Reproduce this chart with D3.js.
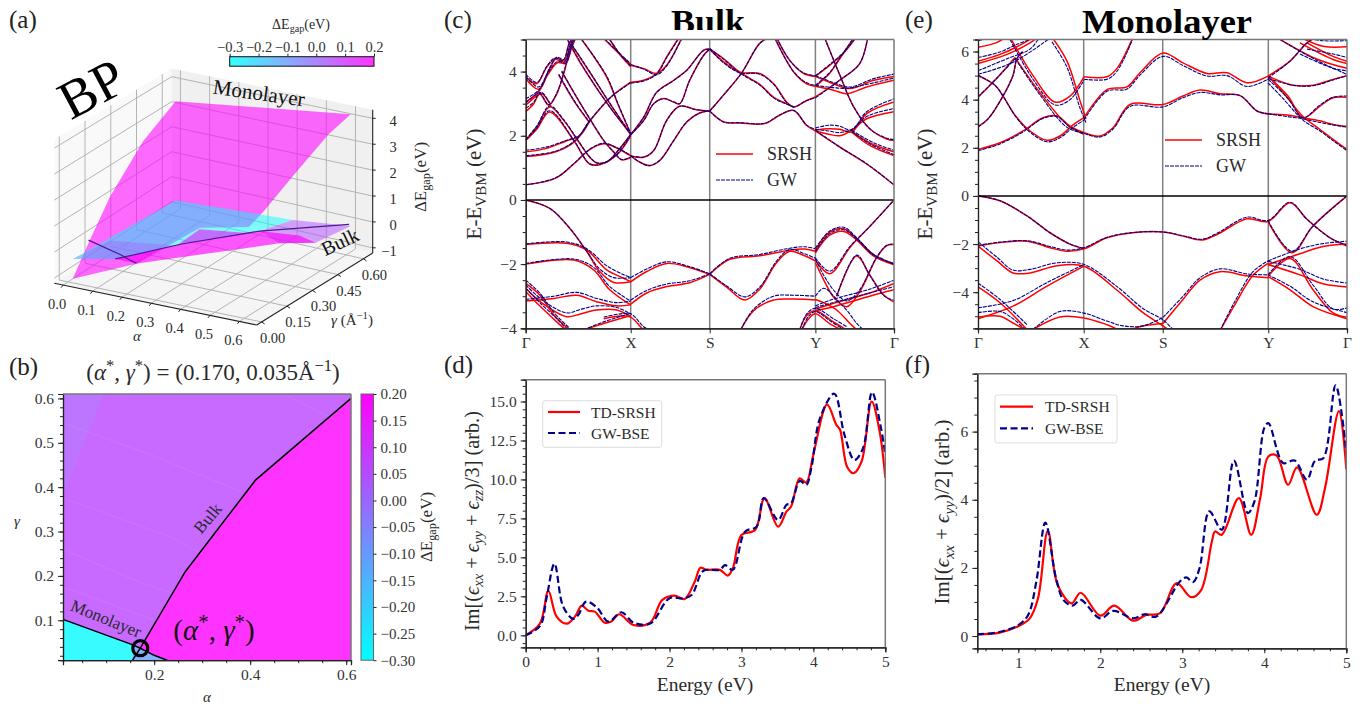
<!DOCTYPE html>
<html>
<head>
<meta charset="utf-8">
<script src="https://cdnjs.cloudflare.com/ajax/libs/d3/7.8.5/d3.min.js"></script>
<style>
  body { margin: 0; background: #fff; }
  svg { display: block; font-family: "Liberation Serif", serif; }
  text { fill: #2a2a2a; }
  .axis path.domain { stroke: #222; stroke-width: 1.2; }
  .axis line { stroke: #222; }
  .axis text { font-family: "Liberation Serif", serif; fill: #333; }
</style>
</head>
<body>
<svg width="1360" height="706"></svg>
<script>
// ---- values ----

// band tables: each row is [k, E SRSH, E GW]
var kLabels = ["Γ", "X", "S", "Y", "Γ"];
var bulkKTicks = [0, 105, 184, 289.7, 368.3];
var monoKTicks = [0, 105.7, 184.7, 290.3, 369];

var bulkBands = [
  [[0,.47,.47],[30,.68,.69],[48,1.12,1.13],[64,1.57,1.58],[78,1.75,1.77],[91,1.62,1.63],[105,1.37,1.39]],
  [[0,1.35,1.38],[30,1.5,1.52],[50,1.85,1.87],[64,2.45,2.47],[85,3.2,3.2],[105,3.67,3.65]],
  [[0,1.5,1.55],[20,1.6,1.64],[40,1.83,1.85],[54,2.0,2.02],[64,2.47,2.49]],
  [[0,1.85,1.88],[11,2.27,2.3],[24,2.9,2.93],[38,2.48,2.5],[51,1.9,1.92],[64,1.33,1.34],[71,1.15,1.16],[81,1.18,1.19],[94,1.6,1.6],[105,2.03,2.05]],
  [[0,1.85,1.88],[11,2.2,2.24],[24,2.74,2.78],[48,1.85,1.87],[64,1.12,1.13],[74,1.1,1.11],[91,1.4,1.41],[105,2.0,2.02]],
  [[36,4.0,4.02],[51,3.2,3.2],[64,2.53,2.54],[78,1.85,1.86],[88,1.49,1.5],[96,1.25,1.26],[105,1.33,1.34]],
  [[33,3.9,3.92],[50,3.0,3.02],[64,2.4,2.42]],
  [[0,3.85,3.92],[11,3.62,3.66],[21,4.14,4.16],[29,4.38,4.42],[39,4.3,4.33],[44,4.77,4.78],[50,5.2,5.2]],
  [[0,3.78,3.84],[13,3.45,3.52],[22,3.9,3.95],[32,4.28,4.32],[40,4.25,4.27],[46,4.75,4.77],[52,5.2,5.2]],
  [[0,3.05,3.15],[14,3.42,3.45],[24,4.09,4.12],[31,4.42,4.45],[38,4.35,4.38],[43,4.82,4.85],[48,5.1,5.1]],
  [[0,2.75,2.85],[8,3.0,3.05],[14,3.3,3.32],[23,2.95,2.97],[31,3.3,3.32],[38,3.94,3.96],[46,4.82,4.85],[51,5.1,5.1]],
  [[0,2.95,3.02],[10,3.22,3.28],[16,3.32,3.35],[24,3.0,3.02]],
  [[46,4.82,4.85],[64,3.98,4.0],[81,3.16,3.16],[105,2.03,2.05]],
  [[40,5.1,5.1],[56,4.2,4.22],[84,2.9,2.9],[105,2.05,2.07]],
  [[56,5,5],[81,3.83,3.86],[92,3.0,3.02],[105,2.05,2.07]],
  [[79,5,5.02],[92,4.6,4.62],[105,4.22,4.25]],
  [[84,5,5],[95,4.5,4.52],[105,4.15,4.18]],
  [[105,4.2,4.22],[118,4.09,4.08],[131,3.94,3.9],[141,4.2,4.18],[156,5.05,5.02]],
  [[105,3.67,3.64],[118,3.73,3.71],[131,3.94,3.92],[141,4.46,4.44],[153,5.05,5.03]],
  [[105,2.03,2.04],[118,2.58,2.58],[131,3.36,3.35],[148,3.73,3.72],[161,4.04,4.04],[178,4.67,4.66],[184,4.7,4.7]],
  [[105,2.03,2.04],[118,2.48,2.47],[128,3.0,3.0],[138,3.16,3.16],[148,3.05,3.05],[154,3.0,3.0],[164,3.73,3.73],[178,4.51,4.51],[184,4.7,4.7]],
  [[105,1.37,1.38],[118,1.33,1.34],[128,1.54,1.54],[141,2.48,2.48],[154,2.92,2.92],[171,2.81,2.81],[184,2.77,2.77]],
  [[105,1.37,1.38],[114,1.18,1.18],[124,1.07,1.07],[134,1.23,1.23],[148,1.85,1.85],[161,2.43,2.43],[174,2.71,2.71],[184,2.77,2.77]],
  [[184,4.7,4.7],[198,4.3,4.27],[214,3.98,3.96],[234,3.94,3.92],[248,3.62,3.6],[261,3.05,3.03],[268,2.9,2.9],[281,3.1,3.1],[289.7,3.21,3.18]],
  [[184,4.7,4.72],[198,4.4,4.38],[214,3.98,3.96],[234,3.6,3.58],[248,3.2,3.18],[261,3.0,2.98],[268,2.9,2.9]],
  [[184,2.77,2.77],[200,3.35,3.35],[216,3.96,3.96],[234,4.88,4.88],[243,5.05,5.05]],
  [[184,2.77,2.77],[198,2.43,2.43],[214,2.4,2.41],[239,2.38,2.39],[254,2.64,2.65],[268,2.79,2.79],[281,2.32,2.33],[289.7,2.15,2.2]],
  [[251,5.05,5.05],[264,4.35,4.35],[278,3.94,3.96],[289.7,3.85,3.87]],
  [[249,5.05,5.05],[268,3.99,3.99],[281,3.62,3.65],[289.7,3.54,3.57]],
  [[289.7,3.85,3.87],[300,4.1,4.12],[317,4.55,4.57],[330,5.05,5.05]],
  [[289.7,3.54,3.57],[304,3.95,3.97],[314,4.4,4.42],[328,5.05,5.05]],
  [[289.7,3.54,3.57],[307.7,3.42,3.5],[321,3.31,3.48],[341,3.52,3.6],[368.3,3.73,3.8]],
  [[289.7,3.85,3.87],[307.7,3.62,3.66],[324,3.47,3.52],[348,3.73,3.78],[368.3,3.85,3.92]],
  [[289.7,3.21,3.18],[314,3.73,3.73],[334,4.25,4.25],[342,5.05,5.05]],
  [[299,5.05,5.05],[314,3.9,3.9],[328,2.9,2.9],[344,2.22,2.22],[361,1.9,1.92],[368.3,1.85,1.88]],
  [[289.7,2.15,2.2],[303,2.05,2.15],[314,2.0,2.1],[326,2.17,2.2],[341,2.53,2.6],[368.3,2.75,2.85]],
  [[289.7,2.18,2.24],[303,2.22,2.33],[314,2.2,2.3],[326,2.12,2.18],[341,2.69,2.75],[368.3,3.05,3.15]],
  [[289.7,2.15,2.17],[314,1.65,1.65],[341,1.12,1.13],[368.3,.47,.47]],
  [[326,2.11,2.13],[344,1.7,1.75],[368.3,1.38,1.41]],
  [[326,2.13,2.17],[348,1.72,1.78],[368.3,1.5,1.55]],
  // valence
  [[0,0,0],[24,-.26,-.26],[44,-.88,-.88],[61,-1.6,-1.6],[74,-2.23,-2.15],[88,-2.57,-2.42],[105,-2.55,-2.42]],
  [[0,-1.39,-1.37],[41,-1.35,-1.31],[61,-1.56,-1.52],[81,-2.18,-2.05],[98,-2.44,-2.33],[105,-2.55,-2.42]],
  [[0,-2.0,-1.98],[48,-1.87,-1.84],[68,-2.18,-2.1],[84,-2.8,-2.7],[105,-3.27,-3.15]],
  [[0,-3.15,-3.1],[28,-3.07,-3.0],[51,-2.97,-2.88],[71,-3.17,-3.07],[91,-3.3,-3.2],[105,-3.27,-3.15]],
  [[0,-2.6,-2.5],[14,-2.96,-2.9],[28,-3.58,-3.5],[44,-4.05,-4.0]],
  [[0,-2.75,-2.65],[18,-3.25,-3.15],[41,-3.64,-3.52],[54,-3.56,-3.42],[71,-3.43,-3.3],[91,-3.43,-3.35],[105,-3.64,-3.55]],
  [[0,-2.85,-2.75],[14,-3.3,-3.2],[31,-3.8,-3.7],[40,-4.05,-4.0]],
  [[58,-4.05,-4.05],[78,-3.85,-3.8],[105,-3.6,-3.53]],
  [[78,-3.7,-3.65],[95,-3.62,-3.55],[105,-3.65,-3.55],[118,-4.05,-3.95],[126,-4.2,-4.1]],
  [[105,-2.55,-2.42],[121,-2.23,-2.15],[141,-1.98,-1.93],[161,-2.08,-2.05],[184,-2.32,-2.3]],
  [[105,-3.25,-3.12],[121,-2.9,-2.82],[141,-2.7,-2.62],[164,-2.58,-2.52],[184,-2.32,-2.3]],
  [[184,-2.32,-2.3],[204,-1.85,-1.82],[234,-1.74,-1.7],[261,-1.58,-1.52],[279,-1.53,-1.46],[289.7,-1.6,-1.52]],
  [[184,-2.32,-2.3],[201,-2.72,-2.68],[219,-3.12,-3.02],[234,-2.78,-2.72],[251,-1.95,-1.9],[264,-1.6,-1.54],[279,-1.74,-1.68],[289.7,-1.9,-1.82]],
  [[215,-4.05,-4.05],[228,-3.45,-3.4],[248,-3.12,-3.0],[268,-3.09,-2.97],[289.7,-3.12,-3.0]],
  [[274,-4.05,-4.05],[281,-3.6,-3.55],[289.7,-3.45,-3.38],[307.7,-3.8,-3.7],[321,-4.05,-3.95]],
  [[276,-4.05,-4.05],[283,-3.7,-3.62],[289.7,-3.55,-3.48],[305,-3.88,-3.78],[316,-4.05,-4.0]],
  [[289.7,-1.56,-1.5],[304,-1.0,-.97],[318,-.9,-.85],[331,-1.2,-1.18],[348,-1.71,-1.7],[368.3,-2.0,-1.98]],
  [[289.7,-1.65,-1.6],[304,-1.1,-1.05],[318,-.98,-.93],[331,-1.25,-1.22],[348,-1.75,-1.72],[368.3,-2.02,-2.0]],
  [[289.7,-1.87,-1.8],[304,-2.3,-2.22],[325,-1.45,-1.42],[344,-.83,-.83],[368.3,0,0]],
  [[289.7,-1.95,-1.85],[299,-2.55,-2.4],[309,-3.07,-2.85],[321,-3.33,-3.15],[334,-2.86,-2.8],[351,-1.8,-1.78],[361,-1.42,-1.42],[368.3,-1.39,-1.37]],
  [[289.7,-3.4,-3.3],[305,-3.25,-3.12],[344,-2.9,-2.78],[368.3,-2.6,-2.5]],
  [[289.7,-3.45,-3.35],[305,-3.35,-3.22],[344,-3.0,-2.9],[368.3,-2.8,-2.7]],
  [[289.7,-3.1,-3.0],[298,-3.2,-2.75],[311,-3.43,-3.1],[324,-3.84,-3.55],[331,-4.05,-3.85],[338,-4.3,-4.05]],
  [[311,-3.0,-3.0],[331,-1.75,-1.72],[344,-2.34,-2.34],[358,-2.96,-2.98],[368.3,-3.18,-3.13]]
];

var monoBands = [
  [[0,1.93,1.88],[22,2.21,2.16],[45,2.7,2.66],[65,3.25,3.22],[79,3.32,3.3],[92,2.9,2.86],[106,2.63,2.6],[122,2.49,2.45],[135,2.83,2.78],[152,3.8,3.72],[185,3.8,3.7],[205,4.15,4.08],[222,4.4,4.3],[242,4.25,4.2],[262,4.17,4.17],[279,3.53,3.53],[290,3.41,3.41]],
  [[0,2.88,2.86],[10,3.2,3.2],[25,4.15,4.15],[35,5.0,5.0],[39,5.7,5.72],[45,6.0,6.02]],
  [[0,5.0,5.02],[17,4.6,4.6],[25,4.15,4.15],[38,3.3,3.28],[52,2.7,2.65],[69,2.31,2.25],[82,2.49,2.42],[95,2.95,2.85],[106,3.25,3.15]],
  [[37,5.75,5.72],[62,4.29,4.2],[89,2.97,2.85],[106,2.56,2.6]],
  [[0,4.1,4.12],[19,4.9,4.9],[37,5.75,5.7]],
  [[32,6.6,6.5],[55,5.0,4.85],[77,3.9,3.78],[92,4.15,4.0],[106,4.95,4.82]],
  [[74,6.6,6.4],[89,5.6,5.35],[102,3.95,3.65],[108,3.2,3.05]],
  [[106,4.95,4.85],[129,4.95,4.85],[139,5.3,5.18],[155,6.6,6.55]],
  [[106,3.25,3.15],[129,4.42,4.35],[149,4.53,4.44],[162,5.12,5.02],[185,5.94,5.8],[205,5.53,5.42],[229,5.09,4.98],[249,5.12,5.0],[269,4.7,4.55],[290,4.98,4.85]],
  [[0,6.18,6.45],[18,6.36,6.6],[28,6.6,6.7]],
  [[0,5.6,5.75],[22,5.88,5.98],[39,6.2,6.3],[56,6.6,6.55]],
  [[0,5.5,5.2],[29,5.88,5.7],[52,6.36,6.1],[60,6.6,6.5]],
  [[0,null,5.05],[35,null,5.55],[70,null,6.5]],
  [[290,4.98,4.88],[315,4.6,4.6],[335,4.6,4.58],[355,4.84,4.82],[369,5.0,5.0]],
  [[290,3.41,3.41],[309,3.36,3.3],[325,3.25,3.2],[342,3.12,3.05],[355,2.97,2.95],[369,2.88,2.86]],
  [[290,4.98,4.85],[310,4.15,4.05],[325,3.25,3.25],[342,3.73,3.78],[355,4.08,4.1],[369,4.1,4.15]],
  [[290,4.98,4.7],[305,4.3,4.05],[325,3.3,3.15],[342,2.76,2.7],[355,2.35,2.3],[369,1.93,1.88]],
  [[290,4.98,4.9],[312,5.6,5.6],[329,6.36,6.36],[338,6.6,6.6]],
  [[322,6.6,6.6],[345,6.22,6.45],[369,6.2,6.45]],
  [[329,6.36,6.1],[355,5.8,5.9],[369,5.6,5.75]],
  [[322,6.36,5.9],[355,5.67,5.3],[369,5.5,5.2]],
  [[298,6.6,6.6],[338,5.7,5.65],[369,5.3,5.05]],
  // valence
  [[0,0,0],[22,-.2,-.2],[49,-.83,-.83],[72,-1.53,-1.53],[92,-2.0,-2.0],[106,-2.2,-2.18]],
  [[0,-2.08,-2.05],[22,-1.94,-1.92],[49,-1.88,-1.86],[72,-2.15,-2.1],[89,-2.3,-2.25],[106,-2.2,-2.15],[129,-1.74,-1.72],[155,-1.53,-1.52],[185,-1.5,-1.5],[205,-1.67,-1.65],[224,-1.83,-1.8],[239,-1.6,-1.55],[269,-.95,-.88],[290,-1.06,-1.02],[312,-.28,-.26],[329,-.97,-.97],[352,-1.74,-1.74],[369,-2.08,-2.05]],
  [[290,-1.06,-1.02],[314,-2.36,-2.3],[335,-1.25,-1.25],[369,0,0]],
  [[0,-2.08,-1.9],[19,-2.7,-2.55],[35,-3.2,-3.08],[52,-3.2,-3.05],[79,-2.9,-2.78],[106,-2.92,-2.85],[140,-3.95,-3.8],[165,-4.85,-4.68],[185,-5.4,-5.15],[195,-5.7,-5.55]],
  [[0,-3.78,-3.62],[22,-4.44,-4.3],[49,-5.55,-5.35]],
  [[0,-5.04,-4.85],[22,-5.0,-4.8],[35,-5.28,-5.1],[47,-5.55,-5.55]],
  [[0,-5.1,-4.65],[35,-4.58,-4.35],[69,-3.75,-3.6],[106,-2.92,-2.85]],
  [[55,-5.55,-5.55],[82,-5.03,-4.8],[106,-5.07,-4.87],[129,-5.35,-5.2],[145,-5.6,-5.4],[165,-5.4,-5.4],[185,-5.3,-5.05]],
  [[185,-5.3,-5.05],[205,-4.3,-4.17],[222,-3.5,-3.4],[242,-3.15,-3.03],[269,-3.32,-3.24],[290,-3.4,-3.28]],
  [[242,-5.6,-5.6],[256,-4.58,-4.45],[275,-3.3,-3.15],[290,-2.8,-2.7]],
  [[290,-2.85,-2.7],[322,-2.4,-2.2],[345,-2.1,-1.98],[369,-2.0,-1.88]],
  [[290,-3.35,-3.28],[312,-2.6,-2.52],[335,-3.9,-3.7],[355,-4.86,-4.7],[369,-5.04,-4.65]],
  [[290,-2.85,-2.72],[322,-3.28,-3.05],[345,-3.65,-3.45],[369,-3.78,-3.62]],
  [[290,-3.35,-3.28],[312,-3.9,-3.75],[335,-4.6,-4.4],[369,-5.1,-4.85]]
];

// optical spectra: energy in eV, Im(eps) in arbitrary units
var bulkSrshE = [0,.2,.315,.43,.57,.685,.78,.87,.96,1.1,1.19,1.3,1.5,1.73,1.9,2.07,2.21,2.35,2.43,2.51,2.7,2.81,2.88,3,3.19,3.32,3.51,3.625,3.69,3.81,3.9,4,4.19,4.32,4.37,4.47,4.56,4.67,4.81,4.92,5];
var bulkSrsh  = [0,.77,2.85,1.2,.75,1.2,1.9,1.58,1.52,.81,.88,1.35,.66,.81,2.27,2.55,2.33,3.44,4.34,4.2,4.2,3.83,4.3,6.43,6.75,8.8,6.97,7.93,8.26,10.07,9.8,11.6,14.8,13.5,13.2,10.8,10.4,11.15,15,13.1,10.1];
var bulkGwE = [0,.2,.29,.4,.52,.66,.73,.84,.99,1.15,1.33,1.5,1.73,2,2.19,2.31,2.47,2.7,2.77,2.88,3.05,3.21,3.31,3.51,3.625,3.69,3.81,3.9,3.97,4.09,4.29,4.43,4.57,4.69,4.815,4.94,5];
var bulkGw  = [0,.6,2.4,4.6,1.85,1.05,1.3,2.16,1.78,.88,1.48,.81,.75,2.38,2.37,2.6,4.13,4.2,4.5,4.2,6.65,6.97,8.8,7.4,8.37,8.47,9.9,9.65,10.7,13.9,15.5,12.9,11.25,12,15.6,13.3,11.6];
var monoSrshE = [.5,.77,1,1.14,1.24,1.36,1.48,1.65,1.76,2,2.17,2.4,2.56,2.73,2.93,3.11,3.23,3.36,3.4,3.48,3.69,3.84,3.95,4.05,4.15,4.29,4.4,4.64,4.74,4.91,5];
var monoSrsh  = [.05,.1,.29,.52,1.1,3.09,1.5,.96,1.27,.6,.89,.45,.62,.67,1.55,1.14,1.35,2.77,3.07,2.97,4.05,2.97,4.05,5.27,5.3,4.44,4.95,3.56,4.34,6.6,4.9];
var monoGwE = [.5,.77,1,1.12,1.22,1.33,1.46,1.55,1.66,1.76,2,2.16,2.4,2.54,2.68,2.97,3.05,3.13,3.21,3.33,3.48,3.63,3.8,3.88,4,4.05,4.23,4.37,4.52,4.62,4.72,4.87,5];
var monoGw  = [.05,.12,.32,.62,1.6,3.33,1.7,1.06,.89,1.06,.52,.74,.52,.64,.57,1.6,1.72,1.58,1.99,3.66,3.12,5.15,3.61,3.95,6.11,6.25,5.08,5.15,4.59,5.15,5.22,7.36,5.4];

// gap = 0 curves in the (alpha, gamma) plane
var bulkLine = [[.155,.01],[.171,.037],[.265,.21],[.411,.416],[.61,.6]];
var monoLine = [[.01,.102],[.157,.044],[.171,.037],[.2,.021],[.227,.01]];
var optimum = [.171,.037];

// flat regions of panel (b): values in eV
var regionValues = {purple: .065, tint: .04, magenta: .2, cyan: -.29, blue: -.11};
var tintRegion = [[.01,.61],[.094,.61],[.063,.522],[.01,.383]];
var bluePatch = [[.155,.01],[.157,.044],[.171,.037],[.2,.021],[.227,.01]];
var faintLines = [
  [[.01,.545],[.2,.47],[.38,.39]],
  [[.01,.375],[.23,.29],[.3,.25]],
  [[.01,.26],[.16,.19],[.24,.16]],
  [[.01,.175],[.1,.14],[.2,.1]],
  [[.47,.61],[.58,.55]]
];

// surfaces of panel (a): rows of [alpha, gamma, gap]
var monoSurface = [[.01,.01,-1.1],[.01,.11,-.03],[.01,.227,1.15],[.01,.42,2.52],[.01,.61,3.31],[.61,.61,4.22],[.61,.478,3.95],[.61,.272,3.18],[.61,.095,2.49],[.61,.01,2.24],[.443,.01,1.84],[.23,.01,0]];
var bulkLow = [[.01,.01,-.34],[.01,.61,-.65],[.43,.58,-.2],[.40,.39,0],[.241,.356,-.1],[.232,.236,-.25],[.168,.113,-.25],[.138,.047,-.2]];
var bulkMid = [[.01,.01,-.34],[.02,.21,-.45],[.232,.236,-.25],[.168,.113,-.25],[.138,.047,-.2]];
var bulkPurpleA = [[.241,.356,-.1],[.40,.39,0],[.265,.21,0],[.232,.236,-.25]];
var bulkPurpleB = [[.43,.58,-.2],[.61,.61,-.1],[.60,.42,0],[.511,.36,0],[.411,.416,0]];
var bulkHigh = [[.155,.01,0],[.171,.037,0],[.265,.21,0],[.411,.416,0],[.53,.445,0],[.60,.42,0],[.511,.36,0],[.23,.01,0]];
var surfaceValues = {mono: .2, low: -.3, mid: .05, purple: .05, high: .2};

var alphaTicks = [0,.1,.2,.3,.4,.5,.6];
var gammaTicks = [0,.15,.3,.45,.6];
var gapTicks = [-1,0,1,2,3,4];
var barTicksA = [-.3,-.2,-.1,0,.1,.2];
var barTicksB = [-.3,-.25,-.2,-.15,-.1,-.05,0,.05,.1,.15,.2];

// ---- helpers ----
var svg = d3.select("svg");
var cool = d3.scaleSequential(d3.interpolateRgb("#00ffff", "#ff00ff")).domain([-.3, .2]);
var minusFmt = function(f) {
  return function(d) { return d3.format(f)(d).replace("-", "−"); };
};

// parts are [text, kind], kind: "", "i", "sub", "isub", "sup", "isup"
function rich(sel, parts, size) {
  var cur = 0;
  parts.forEach(function(p) {
    var kind = p[1] || "";
    var target = kind.indexOf("sub") >= 0 ? size * .22 : kind.indexOf("sup") >= 0 ? -size * .38 : 0;
    sel.append("tspan")
      .attr("dy", target - cur)
      .attr("font-size", target ? size * .72 : size)
      .attr("font-style", kind.indexOf("i") == 0 ? "italic" : "normal")
      .text(p[0]);
    cur = target;
  });
  return sel;
}

function label(x, y, parts, size, opts) {
  opts = opts || {};
  var t = svg.append("text")
    .attr("text-anchor", opts.anchor || "middle")
    .attr("transform", "translate(" + x + "," + y + ") rotate(" + (opts.rotate || 0) + ")");
  if (opts.weight) t.attr("font-weight", opts.weight);
  if (opts.fill) t.style("fill", opts.fill);
  return rich(t, typeof parts == "string" ? [[parts]] : parts, size);
}

function drawAxes(id, x, y, o) {
  var g = svg.append("g").attr("id", id);
  var r = x.range(), s = y.range();
  g.append("g").attr("class", "axis")
    .attr("transform", "translate(0," + s[0] + ")")
    .call(d3.axisBottom(x).tickValues(o.xMinor).tickSize(3).tickFormat(""));
  g.append("g").attr("class", "axis")
    .attr("transform", "translate(" + r[0] + ",0)")
    .call(d3.axisLeft(y).tickValues(o.yMinor).tickSize(3).tickFormat(""));
  var xa = d3.axisBottom(x).tickValues(o.xTicks).tickSize(5).tickPadding(4).tickFormat(o.xFormat);
  var ya = d3.axisLeft(y).tickValues(o.yTicks).tickSize(5).tickPadding(4).tickFormat(o.yFormat);
  g.append("g").attr("class", "axis").attr("transform", "translate(0," + s[0] + ")").call(xa)
    .selectAll("text").attr("font-size", 15.5);
  g.append("g").attr("class", "axis").attr("transform", "translate(" + r[0] + ",0)").call(ya)
    .selectAll("text").attr("font-size", 15.5);
  g.selectAll(".axis").attr("font-family", null);
  g.append("line").attr("x1", r[0]).attr("x2", r[1]).attr("y1", s[1]).attr("y2", s[1])
    .attr("stroke", "#777").attr("stroke-width", 1.5);
  g.append("line").attr("x1", r[1]).attr("x2", r[1]).attr("y1", s[0]).attr("y2", s[1])
    .attr("stroke", "#777").attr("stroke-width", 1.5);
}

function addClip(id, x, y) {
  svg.append("clipPath").attr("id", id).append("rect")
    .attr("x", x.range()[0]).attr("y", y.range()[1])
    .attr("width", x.range()[1] - x.range()[0])
    .attr("height", y.range()[0] - y.range()[1]);
}

// ---- panel (a): 3D box ----
var boxFloor = {fl: [54.3,283.3], fr: [256.7,325], br: [372.7,253], bl: [171.7,206.7]};
var boxRise = {fl: 26, fr: 26.5, br: 25.9, bl: 25};
var uScale = d3.scaleLinear().domain([-.03, .659]).range([0, 1]);
var vScale = d3.scaleLinear().domain([-.029, .655]).range([0, 1]);
var zMin = -1.2, zMax = 4.33;

function bilinear(a, b, c, d, u, v) {
  return (1-u)*(1-v)*a + u*(1-v)*b + u*v*c + (1-u)*v*d;
}
function project(al, ga, z) {
  var u = uScale(al), v = vScale(ga), f = boxFloor, h = boxRise;
  var rise = bilinear(h.fl, h.fr, h.br, h.bl, u, v);
  return [
    bilinear(f.fl[0], f.fr[0], f.br[0], f.bl[0], u, v),
    bilinear(f.fl[1], f.fr[1], f.br[1], f.bl[1], u, v) - rise * (z - zMin)
  ];
}
var aMin = uScale.domain()[0], aMax = uScale.domain()[1];
var gMin = vScale.domain()[0], gMax = vScale.domain()[1];
var path3 = d3.line();

var panes = [
  {pts: [[aMin,gMin,zMin],[aMin,gMax,zMin],[aMin,gMax,zMax],[aMin,gMin,zMax]], fill: "#f9f9f9"},
  {pts: [[aMin,gMax,zMin],[aMax,gMax,zMin],[aMax,gMax,zMax],[aMin,gMax,zMax]], fill: "#f0f0f0"},
  {pts: [[aMin,gMin,zMin],[aMax,gMin,zMin],[aMax,gMax,zMin],[aMin,gMax,zMin]], fill: "#f5f5f5"}
];
var box = svg.append("g").attr("id", "panel-a");
box.selectAll("path.pane").data(panes).enter().append("path").attr("class", "pane")
  .attr("d", function(d) { return path3(d.pts.map(function(p) { return project(p[0], p[1], p[2]); })) + "Z"; })
  .attr("fill", function(d) { return d.fill; });

var gridRows = [];
alphaTicks.forEach(function(a) {
  gridRows.push([[a,gMin,zMin],[a,gMax,zMin],[a,gMax,zMax]]);
});
gammaTicks.forEach(function(g) {
  gridRows.push([[aMax,g,zMin],[aMin,g,zMin],[aMin,g,zMax]]);
});
gapTicks.forEach(function(z) {
  gridRows.push([[aMin,gMin,z],[aMin,gMax,z],[aMax,gMax,z]]);
});
box.selectAll("path.grid").data(gridRows).enter().append("path").attr("class", "grid")
  .attr("d", function(d) { return path3(d.map(function(p) { return project(p[0], p[1], p[2]); })); })
  .attr("fill", "none").attr("stroke", "#b4b4b4").attr("stroke-width", 1);

var surfaces = [
  {pts: monoSurface, value: surfaceValues.mono, op: .58},
  {pts: bulkLow, value: surfaceValues.low, op: .48},
  {pts: bulkMid, value: surfaceValues.mid, op: .3},
  {pts: bulkPurpleA, value: surfaceValues.purple, op: .8},
  {pts: bulkPurpleB, value: surfaceValues.purple, op: .5},
  {pts: bulkHigh, value: surfaceValues.high, op: .65}
];
box.selectAll("path.surface").data(surfaces).enter().append("path").attr("class", "surface")
  .attr("d", function(d) { return path3(d.pts.map(function(p) { return project(p[0], p[1], p[2]); })) + "Z"; })
  .attr("fill", function(d) { return cool(d.value); })
  .attr("fill-opacity", function(d) { return d.op; });
[bulkLine, monoLine].forEach(function(l) {
  box.append("path")
    .attr("d", path3(l.map(function(p) { return project(p[0], p[1], 0); })))
    .attr("fill", "none").attr("stroke", "#4a1a90").attr("stroke-width", 1.2);
});

// edges and ticks of the box
var edges = [
  [[aMin,gMin,zMin],[aMax,gMin,zMin]],
  [[aMax,gMin,zMin],[aMax,gMax,zMin]],
  [[aMax,gMax,zMin],[aMax,gMax,zMax]]
];
box.selectAll("path.edge").data(edges).enter().append("path").attr("class", "edge")
  .attr("d", function(d) { return path3(d.map(function(p) { return project(p[0], p[1], p[2]); })); })
  .attr("stroke", "#222").attr("stroke-width", 1.1);
alphaTicks.forEach(function(a) {
  var p = project(a, gMin, zMin);
  box.append("line").attr("x1", p[0]).attr("y1", p[1]).attr("x2", p[0] - 2).attr("y2", p[1] + 2.5).attr("stroke", "#222");
  label(p[0] - 6, p[1] + 24, d3.format(".1f")(a), 14.5);
});
gammaTicks.forEach(function(g) {
  var p = project(aMax, g, zMin);
  box.append("line").attr("x1", p[0]).attr("y1", p[1]).attr("x2", p[0] + 3).attr("y2", p[1] + 2).attr("stroke", "#222");
  label(p[0] + 11, p[1] + 21, d3.format(".2f")(g), 14.5);
});
gapTicks.forEach(function(z) {
  var p = project(aMax, gMax, z);
  box.append("line").attr("x1", p[0]).attr("y1", p[1]).attr("x2", p[0] + 3).attr("y2", p[1]).attr("stroke", "#222");
  label(p[0] + 24, p[1] + 8, minusFmt("d")(z), 14.5, {anchor: "end"});
});
label(137, 341, [["α", "i"]], 15);
label(352, 325, [["γ ", "i"], ["(Å"], ["−1", "sup"], [")"]], 15);
label(426, 177, [["ΔE"], ["gap", "sub"], ["(eV)"]], 17, {rotate: -90});
label(100, 105, "BP", 54, {rotate: -28, fill: "#000"});
label(258, 100, "Monolayer", 21, {rotate: 8, fill: "#111"});
label(343, 248, "Bulk", 20, {rotate: -25, fill: "#111"});

// horizontal colour bar
var barA = d3.scaleLinear().domain([-.3, .2]).range([229.7, 374]);
var stops = d3.range(0, 1.01, .1);
var grad = svg.append("defs").append("linearGradient").attr("id", "coolH");
grad.selectAll("stop").data(stops).enter().append("stop")
  .attr("offset", function(d) { return d; })
  .attr("stop-color", function(d) { return cool(-.3 + .5 * d); });
var gradV = svg.select("defs").append("linearGradient").attr("id", "coolV")
  .attr("x1", 0).attr("x2", 0).attr("y1", 1).attr("y2", 0);
gradV.selectAll("stop").data(stops).enter().append("stop")
  .attr("offset", function(d) { return d; })
  .attr("stop-color", function(d) { return cool(-.3 + .5 * d); });
svg.append("rect").attr("x", 229.7).attr("y", 56.7).attr("width", 144.3).attr("height", 9.5)
  .attr("fill", "url(#coolH)").attr("fill-opacity", .8).attr("stroke", "#111");
var barAxis = svg.append("g").attr("class", "axis").attr("transform", "translate(0,56.7)")
  .call(d3.axisTop(barA).tickValues(barTicksA).tickSize(3).tickPadding(2).tickFormat(minusFmt(".1f")));
barAxis.select(".domain").remove();
barAxis.selectAll("text").attr("font-size", 14.5);
label(301, 29, [["ΔE"], ["gap", "sub"], ["(eV)"]], 14);

// ---- panel (b) ----
var xB = d3.scaleLinear().domain([.01, .61]).range([63, 351]);
var yB = d3.scaleLinear().domain([.01, .61]).range([660.2, 394]);
var lineB = d3.line().x(function(d) { return xB(d[0]); }).y(function(d) { return yB(d[1]); });
function regionB(pts, v) {
  svg.append("path").attr("d", lineB(pts) + "Z")
    .attr("fill", d3.interpolateRgb(cool(v), "#fff")(.2));
}
regionB([[.01,.01],[.61,.01],[.61,.61],[.01,.61]], regionValues.purple);
regionB(tintRegion, regionValues.tint);
regionB(bulkLine.concat([[.61,.01]]), regionValues.magenta);
regionB(monoLine.slice(0, 2).concat([[.155,.01],[.01,.01]]), regionValues.cyan);
regionB(bluePatch, regionValues.blue);
faintLines.forEach(function(l) {
  svg.append("path").attr("d", lineB(l)).attr("fill", "none")
    .attr("stroke", "#fff").attr("stroke-opacity", .07).attr("stroke-width", 1);
});
[bulkLine, monoLine].forEach(function(l) {
  svg.append("path").attr("d", lineB(l)).attr("fill", "none").attr("stroke", "#000").attr("stroke-width", 1.5);
});
svg.append("circle").attr("cx", xB(optimum[0])).attr("cy", yB(optimum[1])).attr("r", 7.5)
  .attr("fill", "none").attr("stroke", "#000").attr("stroke-width", 3.2);
drawAxes("panel-b", xB, yB, {
  xTicks: [.2,.4,.6], xMinor: d3.range(.05, .61, .05), xFormat: d3.format(".1f"),
  yTicks: [.1,.2,.3,.4,.5,.6], yMinor: d3.range(.02, .61, .02), yFormat: d3.format(".1f")
});
label(207, 702, [["α", "i"]], 15);
label(17, 526, [["γ", "i"]], 15);
label(213, 380, [["("], ["α", "i"], ["*", "sup"], [", "], ["γ", "i"], ["*", "sup"], [") = (0.170, 0.035Å"], ["−1", "sup"], [")"]], 23);
label(214, 640, [["("], ["α", "i"], ["*", "sup"], [", "], ["γ", "i"], ["*", "sup"], [")"]], 29, {fill: "#111"});
label(212, 522, "Bulk", 17, {rotate: -50});
label(104, 624, "Monolayer", 17, {rotate: 22});

var barB = d3.scaleLinear().domain([-.3, .2]).range([660.2, 394]);
svg.append("rect").attr("x", 361).attr("y", 394).attr("width", 12.5).attr("height", 266.2)
  .attr("fill", "url(#coolV)").attr("stroke", "#666");
var barBAxis = svg.append("g").attr("class", "axis").attr("transform", "translate(373.5,0)")
  .call(d3.axisRight(barB).tickValues(barTicksB).tickSize(3).tickPadding(4).tickFormat(minusFmt(".2f")));
barBAxis.select(".domain").remove();
barBAxis.selectAll("text").attr("font-size", 15);
label(432, 527, [["ΔE"], ["gap", "sub"], ["(eV)"]], 17, {rotate: -90});

// ---- band structures ----
function drawBands(id, bands, kTicks, x, y, yTicks, yMinor) {
  addClip(id + "-clip", x, y);
  var plot = svg.append("g").attr("clip-path", "url(#" + id + "-clip)");
  kTicks.slice(1, 4).forEach(function(k) {
    plot.append("line").attr("x1", x(k)).attr("x2", x(k)).attr("y1", y.range()[0]).attr("y2", y.range()[1])
      .attr("stroke", "#808080").attr("stroke-width", 1.5);
  });
  var srshLine = d3.line().defined(function(d) { return d[1] !== null; })
    .x(function(d) { return x(d[0]); }).y(function(d) { return y(d[1]); }).curve(d3.curveCatmullRom.alpha(.5));
  var gwLine = d3.line().defined(function(d) { return d[2] !== null; })
    .x(function(d) { return x(d[0]); }).y(function(d) { return y(d[2]); }).curve(d3.curveCatmullRom.alpha(.5));
  plot.selectAll("path.srsh").data(bands).enter().append("path").attr("class", "srsh")
    .attr("d", srshLine).attr("fill", "none").attr("stroke", "#ff0000").attr("stroke-width", 1.5);
  plot.selectAll("path.gw").data(bands).enter().append("path").attr("class", "gw")
    .attr("d", gwLine).attr("fill", "none").attr("stroke", "#00008b").attr("stroke-width", 1.1).attr("stroke-dasharray", "4,1");
  plot.append("line").attr("x1", x.range()[0]).attr("x2", x.range()[1]).attr("y1", y(0)).attr("y2", y(0))
    .attr("stroke", "#000").attr("stroke-width", 1.6);
  drawAxes(id, x, y, {
    xTicks: kTicks, xMinor: [], xFormat: function(d, i) { return kLabels[i]; },
    yTicks: yTicks, yMinor: yMinor, yFormat: minusFmt("d")
  });
}

var xC = d3.scaleLinear().domain([0, bulkKTicks[4]]).range([525.7, 894]);
var yC = d3.scaleLinear().domain([-4, 5]).range([328.3, 39.5]);
drawBands("panel-c", bulkBands, bulkKTicks, xC, yC, [-4,-2,0,2,4], d3.range(-3.5, 5.01, .5));
var xE = d3.scaleLinear().domain([0, monoKTicks[4]]).range([978, 1347]);
var yE = d3.scaleLinear().domain([-5.5, 6.5]).range([328.3, 39.5]);
drawBands("panel-e", monoBands, monoKTicks, xE, yE, [-4,-2,0,2,4,6], d3.range(-5.5, 6.51, .5));

function lineLegend(x0, x1, tx, y1, y2, names, size, w1, w2, dash2) {
  svg.append("line").attr("x1", x0).attr("x2", x1).attr("y1", y1).attr("y2", y1)
    .attr("stroke", "#ff0000").attr("stroke-width", w1);
  svg.append("line").attr("x1", x0).attr("x2", x1).attr("y1", y2).attr("y2", y2)
    .attr("stroke", "#00008b").attr("stroke-width", w2).attr("stroke-dasharray", dash2);
  label(tx, y1 + 5.5, names[0], size, {anchor: "start"});
  label(tx, y2 + 5.5, names[1], size, {anchor: "start"});
}
lineLegend(716, 753, 767, 154, 180, ["SRSH", "GW"], 18, 1.3, 1.1, "4,1");
lineLegend(1165, 1202, 1216, 140, 166, ["SRSH", "GW"], 18, 1.3, 1.1, "4,1");

svg.append("clipPath").attr("id", "bulk-title-clip").append("rect").attr("x", -60).attr("y", -40).attr("width", 120).attr("height", 37);
label(708, 33, "Bulk", 33, {weight: "bold", fill: "#000"}).attr("clip-path", "url(#bulk-title-clip)").select("tspan")
  .attr("textLength", 74).attr("lengthAdjust", "spacingAndGlyphs");
label(1167, 33, "Monolayer", 33, {weight: "bold", fill: "#000"}).select("tspan")
  .attr("textLength", 170).attr("lengthAdjust", "spacingAndGlyphs");
var vbm = [["E-E"], ["VBM", "sub"], [" (eV)"]];
label(481, 184, vbm, 21, {rotate: -90});
label(932, 184, vbm, 21, {rotate: -90});

// ---- spectra ----
function zipped(a, b) { return a.map(function(d, i) { return [d, b[i]]; }); }
function drawSpectra(id, srsh, gw, x, y, o) {
  addClip(id + "-clip", x, y);
  var plot = svg.append("g").attr("clip-path", "url(#" + id + "-clip)");
  var line = d3.line().x(function(d) { return x(d[0]); }).y(function(d) { return y(d[1]); })
    .curve(d3.curveCatmullRom.alpha(.5));
  plot.append("path").attr("d", line(srsh)).attr("fill", "none").attr("stroke", "#ff0000").attr("stroke-width", 2.2);
  plot.append("path").attr("d", line(gw)).attr("fill", "none").attr("stroke", "#00008b").attr("stroke-width", 2.2).attr("stroke-dasharray", "7,3.5");
  drawAxes(id, x, y, o);
}
function legendBox(x, y, w, h) {
  svg.append("rect").attr("x", x).attr("y", y).attr("width", w).attr("height", h).attr("rx", 2.5)
    .attr("fill", "#fff").attr("fill-opacity", .8).attr("stroke", "#ddd");
}

var xD = d3.scaleLinear().domain([0, 5]).range([525.7, 885.3]);
var yD = d3.scaleLinear().domain([-.77, 16.4]).range([647.3, 379.7]);
drawSpectra("panel-d", zipped(bulkSrshE, bulkSrsh), zipped(bulkGwE, bulkGw), xD, yD, {
  xTicks: [0,1,2,3,4,5], xMinor: d3.range(.2, 5, .2), xFormat: d3.format("d"),
  yTicks: [0,2.5,5,7.5,10,12.5,15], yMinor: d3.range(-.5, 16.1, .5), yFormat: d3.format(".1f")
});
legendBox(542.7, 400.7, 119, 46.6);
lineLegend(548, 580, 591, 412, 433, ["TD-SRSH", "GW-BSE"], 15.5, 2.2, 2.2, "7,3.5");

var xF = d3.scaleLinear().domain([.5, 5]).range([977.3, 1346.3]);
var yF = d3.scaleLinear().domain([-.36, 7.7]).range([648.3, 373.7]);
drawSpectra("panel-f", zipped(monoSrshE, monoSrsh), zipped(monoGwE, monoGw), xF, yF, {
  xTicks: [1,2,3,4,5], xMinor: d3.range(.6, 5, .2), xFormat: d3.format("d"),
  yTicks: [0,2,4,6], yMinor: d3.range(0, 7.6, .5), yFormat: d3.format("d")
});
legendBox(995, 395, 122, 48);
lineLegend(1000, 1033, 1045, 406.7, 428.3, ["TD-SRSH", "GW-BSE"], 15.5, 2.2, 2.2, "7,3.5");

label(705, 691, "Energy (eV)", 19.5);
label(1162, 691, "Energy (eV)", 19.5);
label(479, 521, [["Im[("], ["ϵ", "i"], ["xx", "isub"], [" + "], ["ϵ", "i"], ["yy", "isub"], [" + "], ["ϵ", "i"], ["zz", "isub"], [")/3] (arb.)"]], 20.3, {rotate: -90});
label(949, 512, [["Im[("], ["ϵ", "i"], ["xx", "isub"], [" + "], ["ϵ", "i"], ["yy", "isub"], [")/2] (arb.)"]], 21, {rotate: -90});

// panel letters
[["(a)",9,28],["(b)",9,375],["(c)",444,28],["(d)",444,373],["(e)",905,28],["(f)",905,373]].forEach(function(p) {
  label(p[1], p[2], p[0], 25, {anchor: "start", fill: "#222"});
});
</script>
</body>
</html>
